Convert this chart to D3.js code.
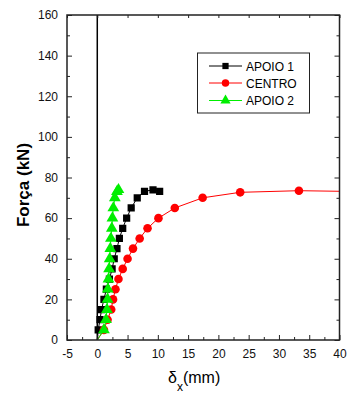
<!DOCTYPE html>
<html><head><meta charset="utf-8">
<script src="https://cdn.jsdelivr.net/npm/d3@7"></script>
<style>body{margin:0;background:#fff}svg{display:block;font-family:Arial,"Liberation Sans",sans-serif}</style>
</head><body><svg id="c" width="347" height="396"></svg>
<script>
const xTicks = [-5,0,5,10,15,20,25,30,35,40];
const yTicks = [0,20,40,60,80,100,120,140,160];
const seriesNames = ["APOIO 1","CENTRO","APOIO 2"];
const apoio1X = [0,0.15,0.45,0.7,1.1,1.5,2.0,2.45,2.8,3.25,3.65,4.2,4.85,5.6,6.6,7.8,9.2,10.3];
const apoio1Y = [0,5,10,15,20,25,30,35,40,45,50,55,60,65,70,73.2,73.9,73.2];
const centroX = [0,1.1,1.7,2.3,2.6,3.0,3.5,4.2,5.0,5.9,7.0,8.3,10.1,12.8,17.4,23.6,33.3,45];
const centroY = [0,5,10,15,20,25,30,35,40,45,50,55,60,65,70,72.7,73.5,73.0];
const apoio2X = [0,1.1,1.45,1.6,1.7,1.75,1.85,1.95,2.05,2.15,2.25,2.4,2.5,2.65,2.9,3.25,3.5];
const apoio2Y = [0,5,10,15,20,25,30,35,40,45,50,55,60,65,70,73,74];

const svg = d3.select("#c");
const L=67, R=339.5, T=15, B=340;
const x = d3.scaleLinear().domain([-5,40]).range([L,R]);
const y = d3.scaleLinear().domain([0,160]).range([B,T]);

svg.append("clipPath").attr("id","pc").append("rect")
  .attr("x",L).attr("y",T).attr("width",R-L).attr("height",B-T);

// zero line
svg.append("line").attr("x1",x(0)).attr("x2",x(0)).attr("y1",T).attr("y2",B)
  .attr("stroke","#000").attr("stroke-width",1.5);

const series = [
  {name:seriesNames[0], xs:apoio1X, ys:apoio1Y, color:"#000000", sym:d3.symbolSquare, size:52},
  {name:seriesNames[1], xs:centroX, ys:centroY, color:"#ff0000", sym:d3.symbolCircle, size:58},
  {name:seriesNames[2], xs:apoio2X, ys:apoio2Y, color:"#00ee00", sym:d3.symbolTriangle, size:60}
];
const line = d3.line().x(d=>x(d[0])).y(d=>y(d[1]));
const g = svg.append("g").attr("clip-path","url(#pc)");
series.forEach(s=>{
  const pts = s.xs.map((v,i)=>[v,s.ys[i]]);
  g.append("path").datum(pts).attr("d",line).attr("fill","none").attr("stroke",s.color).attr("stroke-width",1);
  g.selectAll(null).data(pts.filter(p=>p[1]>0)).enter().append("path")
    .attr("d",d3.symbol().type(s.sym).size(s.size))
    .attr("transform",d=>`translate(${x(d[0])},${y(d[1])})`)
    .attr("fill",s.color);
});

// frame
svg.append("rect").attr("x",L).attr("y",T).attr("width",R-L).attr("height",B-T)
  .attr("fill","none").attr("stroke","#222").attr("stroke-width",1.5);

// axes
const fs = "12px";
const fmt = d => String(d);
const xb = svg.append("g").attr("transform",`translate(0,${B})`)
  .call(d3.axisBottom(x).tickValues(xTicks).tickSize(-5).tickPadding(9).tickFormat(fmt));
const xbm = svg.append("g").attr("transform",`translate(0,${B})`)
  .call(d3.axisBottom(x).tickValues(d3.range(-2.5,40,5)).tickSize(-3).tickFormat(""));
const xt = svg.append("g").attr("transform",`translate(0,${T})`)
  .call(d3.axisTop(x).tickValues(xTicks).tickSize(-3).tickFormat(""));
const yl = svg.append("g").attr("transform",`translate(${L},0)`)
  .call(d3.axisLeft(y).tickValues(yTicks).tickSize(-5).tickPadding(9).tickFormat(fmt));
const ylm = svg.append("g").attr("transform",`translate(${L},0)`)
  .call(d3.axisLeft(y).tickValues(d3.range(10,160,20)).tickSize(-3).tickFormat(""));
const yr = svg.append("g").attr("transform",`translate(${R},0)`)
  .call(d3.axisRight(y).tickValues(yTicks).tickSize(-5).tickFormat(""));
const yrm = svg.append("g").attr("transform",`translate(${R},0)`)
  .call(d3.axisRight(y).tickValues(d3.range(10,160,20)).tickSize(-3).tickFormat(""));
[xb,xbm,xt,yl,ylm,yr,yrm].forEach(a=>{
  a.select(".domain").remove();
  a.selectAll(".tick line").attr("stroke","#222").attr("stroke-width",1);
  a.selectAll("text").attr("font-size",fs).attr("fill","#111").attr("font-family","Arial, Liberation Sans, sans-serif");
});

// labels
svg.append("text").attr("transform","translate(29,185) rotate(-90)")
  .attr("text-anchor","middle").attr("font-size","17px").attr("font-weight","bold").text("Força (kN)");
const xl = svg.append("text").attr("x",168).attr("y",383).attr("text-anchor","start").attr("font-size","16px");
xl.append("tspan").text("δ");
xl.append("tspan").attr("font-size","12px").attr("dy",8).text("x");
xl.append("tspan").attr("dy",-8).text("(mm)");

// legend
const lg = svg.append("g");
lg.append("rect").attr("x",197.5).attr("y",53).attr("width",112).attr("height",60)
  .attr("fill","#fff").attr("stroke","#222").attr("stroke-width",1);
const rowsY=[66,83,100.5];
series.forEach((s,i)=>{
  lg.append("line").attr("x1",209).attr("x2",242).attr("y1",rowsY[i]).attr("y2",rowsY[i]).attr("stroke",s.color).attr("stroke-width",1);
  lg.append("path").attr("d",d3.symbol().type(s.sym).size(s.size*0.75)).attr("transform",`translate(225.5,${rowsY[i]})`).attr("fill",s.color);
  lg.append("text").attr("x",246).attr("y",rowsY[i]+4.5).attr("font-size","12px").text(s.name);
});
</script></body></html>
